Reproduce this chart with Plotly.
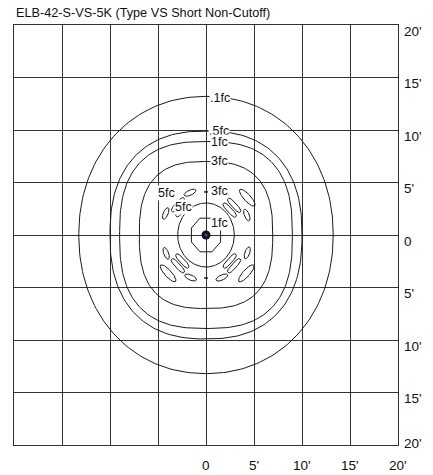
import numpy as np
import plotly.graph_objects as go

title_text = "ELB-42-S-VS-5K (Type VS Short Non-Cutoff)"

# ---- main isofootcandle contours (feet) ----
contour_rx = [13.25, 10.0, 9.0, 6.95, 2.95, 1.52]
contour_ry = [13.2, 9.9, 8.9, 7.0, 3.05, 1.6]
contour_exp = [2.1, 2.4, 2.65, 2.7, 2.0, 2.0]
contour_sides = [0, 0, 0, 0, 0, 8]   # 8 -> drawn as octagon

# ---- contour labels ----
label_text = [".1fc", ".5fc", "1fc", "3fc", "3fc", "1fc"]
label_x = [0.27, 0.25, 0.37, 0.37, 0.37, 0.45]
label_y = [13.05, 9.95, 8.9, 7.05, 4.22, 1.19]
label2_text = ["5fc", "5fc"]
label2_x = [-4.07, -2.35]
label2_y = [3.97, 2.7]

# ---- small closed contours (blobs) ----
blob_x = [-1.66, -4.2, -2.47, -2.93, 4.3, 4.25, 2.47, 2.93, 1.7,
          4.3, 2.47, 2.93, 4.2, 1.65, -4.15, -2.47, -2.93, -3.95, -1.6]
blob_y = [4.03, 2.05, 2.42, 2.88, 3.55, 1.9, 2.37, 2.83, 4.0,
          -1.7, -2.47, -2.93, -3.65, -4.05, -1.75, -2.47, -2.93, -3.65, -4.05]
blob_len = [1.3, 1.2, 1.8, 1.8, 2.2, 1.2, 1.8, 1.8, 1.3,
            1.2, 1.8, 1.8, 2.2, 1.3, 1.2, 1.8, 1.8, 2.2, 1.3]
blob_wid = [0.5, 0.5, 0.48, 0.48, 0.68, 0.5, 0.48, 0.48, 0.5,
            0.5, 0.48, 0.48, 0.68, 0.5, 0.5, 0.48, 0.48, 0.68, 0.5]
blob_ang = [22, 64, 45, 45, -45, 114, -45, -45, -23,
            68, 45, 45, 45, 22, 113, -45, -45, -45, -22]
blob_exp = [2, 2, 3, 3, 2, 2, 3, 3, 2,
            2, 3, 3, 2, 2, 2, 3, 3, 2, 2]

dash_x = [0.0, 0.0]
dash_y = [4.1, -4.1]

# ---- axis labels ----
right_vals = [20, 15, 10, 5, 0, -5, -10, -15, -20]
right_text = ["20'", "15'", "10'", "5'", "0", "5'", "10'", "15'", "20'"]
bottom_vals = [0, 5, 10, 15, 20]
bottom_text = ["0", "5'", "10'", "15'", "20'"]

LINE = "#1a1a1a"
FONT = "Liberation Sans, Arial, sans-serif"


def superellipse(rx, ry, n, npts=240):
    t = np.linspace(0, 2 * np.pi, npts)
    c, s = np.cos(t), np.sin(t)
    x = rx * np.sign(c) * np.abs(c) ** (2.0 / n)
    y = ry * np.sign(s) * np.abs(s) ** (2.0 / n)
    return x, y


fig = go.Figure()

for rx, ry, n, sides in zip(contour_rx, contour_ry, contour_exp, contour_sides):
    if sides:
        t = np.linspace(0, 2 * np.pi, sides + 1) + np.pi / sides
        k = 1 / np.cos(np.pi / sides)
        x, y = rx * k * np.cos(t), ry * k * np.sin(t)
    else:
        x, y = superellipse(rx, ry, n)
    fig.add_trace(go.Scatter(x=x, y=y, mode="lines",
                             line=dict(color=LINE, width=1), hoverinfo="skip"))

for cx, cy, L, W, a, n in zip(blob_x, blob_y, blob_len, blob_wid, blob_ang, blob_exp):
    u, v = superellipse(L / 2, W / 2, n, 80)
    th = np.deg2rad(a)
    x = cx + u * np.cos(th) - v * np.sin(th)
    y = cy + u * np.sin(th) + v * np.cos(th)
    fig.add_trace(go.Scatter(x=x, y=y, mode="lines",
                             line=dict(color=LINE, width=1), hoverinfo="skip"))

for dx, dy in zip(dash_x, dash_y):
    fig.add_trace(go.Scatter(x=[dx - 0.2, dx + 0.2], y=[dy, dy], mode="lines",
                             line=dict(color=LINE, width=1.5), hoverinfo="skip"))

# luminaire position
fig.add_trace(go.Scatter(x=[0], y=[0], mode="markers",
                         marker=dict(size=9, color="#111"), hoverinfo="skip"))
fig.add_trace(go.Scatter(x=[0], y=[0], mode="markers",
                         marker=dict(size=3, color="#2a4fd0"), hoverinfo="skip"))

ann = []
for t, x, y in zip(label_text, label_x, label_y):
    ann.append(dict(x=x, y=y, text=t, showarrow=False, xanchor="left", yanchor="middle",
                    bgcolor="white", borderpad=0,
                    font=dict(family=FONT, size=12.5, color="#111")))
for t, x, y in zip(label2_text, label2_x, label2_y):
    ann.append(dict(x=x, y=y, text=t, showarrow=False, xanchor="center", yanchor="middle",
                    bgcolor="white", borderpad=0,
                    font=dict(family=FONT, size=12.5, color="#111")))
for v, t in zip(right_vals, right_text):
    ann.append(dict(x=20, y=v, text=t, showarrow=False, xanchor="left", yanchor="middle",
                    xshift=4, yshift=(2 if v == min(right_vals) else -6),
                    font=dict(family=FONT, size=13.5, color="#111")))
for v, t in zip(bottom_vals, bottom_text):
    ann.append(dict(x=v, y=-20, text=t, showarrow=False, xanchor="center", yanchor="middle",
                    yshift=-20, font=dict(family=FONT, size=13.5, color="#111")))
ann.append(dict(x=0, y=1, xref="paper", yref="paper", text=title_text, showarrow=False,
                xanchor="left", yanchor="middle", yshift=12,
                font=dict(family=FONT, size=12.7, color="#111")))

axis_common = dict(range=[-20, 20], dtick=5, tick0=0, showgrid=True, gridcolor="#333",
                   gridwidth=1, zeroline=False, showticklabels=False, ticks="",
                   showline=True, linecolor="#333", linewidth=1, mirror=True, fixedrange=True)

fig.update_layout(
    width=433, height=475,
    margin=dict(l=14, r=35, t=25, b=30),
    paper_bgcolor="white", plot_bgcolor="white",
    showlegend=False,
    xaxis=axis_common, yaxis=axis_common,
    annotations=ann,
    font=dict(family=FONT),
)

fig.write_html("out.html", config={"displayModeBar": False},
               post_script="document.body.style.margin='0';document.body.style.padding='0';")
